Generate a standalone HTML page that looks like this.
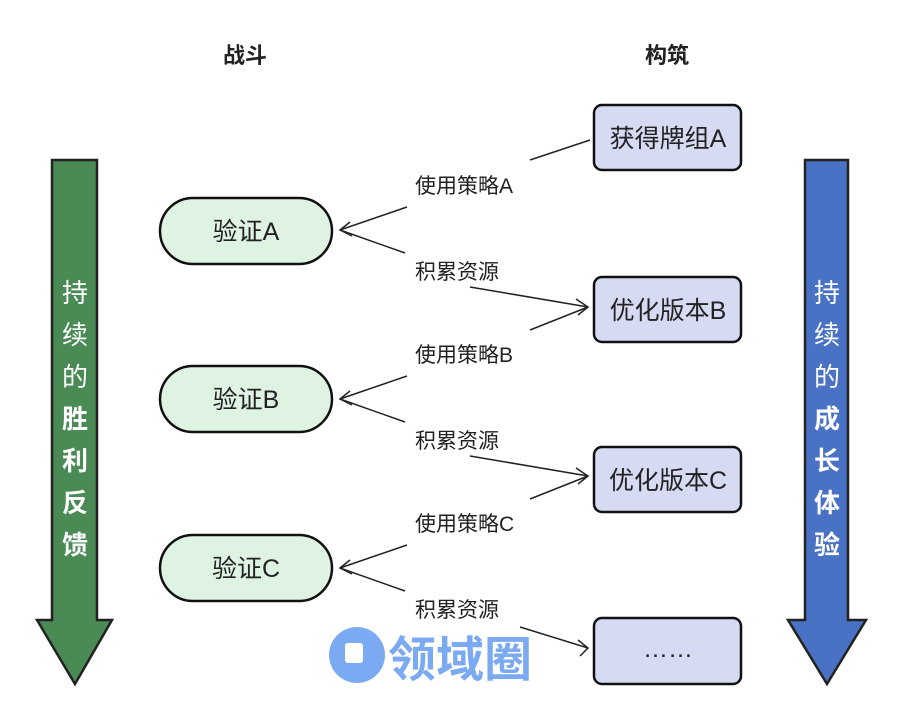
<!DOCTYPE html>
<html><head><meta charset="utf-8"><style>
body{margin:0;background:#fff;}
svg text{font-family:"Liberation Sans","Noto Sans CJK SC",sans-serif;}
</style></head><body>
<svg width="900" height="718" viewBox="0 0 900 718" xmlns="http://www.w3.org/2000/svg">
<rect width="900" height="718" fill="#fff"/>
<text x="245" y="63" font-size="22" font-weight="bold" text-anchor="middle" fill="#222">战斗</text>
<text x="667" y="63" font-size="22" font-weight="bold" text-anchor="middle" fill="#222">构筑</text>
<polygon points="52,160 97,160 97,620 112,620 75,684 37,620 52,620" fill="#4a8a55" stroke="#222" stroke-width="2.5"/>
<polygon points="805,160 848,160 848,620 866,620 827,684 788,620 805,620" fill="#4a72c4" stroke="#222" stroke-width="2.5"/>
<g font-size="26" fill="#fff" text-anchor="middle" font-weight="bold">
<text x="75" y="302" font-weight="normal">持</text><text x="75" y="344" font-weight="normal">续</text><text x="75" y="386" font-weight="normal">的</text>
<text x="75" y="428">胜</text><text x="75" y="470">利</text><text x="75" y="512">反</text><text x="75" y="554">馈</text>
<text x="827" y="302" font-weight="normal">持</text><text x="827" y="344" font-weight="normal">续</text><text x="827" y="386" font-weight="normal">的</text>
<text x="827" y="428">成</text><text x="827" y="470">长</text><text x="827" y="512">体</text><text x="827" y="554">验</text>
</g>
<g stroke="#111" stroke-width="2.5">
<rect x="160" y="198" width="172" height="66" rx="33" fill="#dff3e3"/>
<rect x="160" y="366" width="172" height="66" rx="33" fill="#dff3e3"/>
<rect x="160" y="535" width="172" height="66" rx="33" fill="#dff3e3"/>
<rect x="594" y="105" width="147" height="65" rx="8" fill="#d6daf2"/>
<rect x="594" y="277" width="147" height="65" rx="8" fill="#d6daf2"/>
<rect x="594" y="447" width="147" height="65" rx="8" fill="#d6daf2"/>
<rect x="594" y="618" width="147" height="66" rx="8" fill="#d6daf2"/>
</g>
<g font-size="25" fill="#222" text-anchor="middle">
<text x="246" y="240">验证A</text><text x="246" y="408">验证B</text><text x="246" y="577">验证C</text>
<text x="668" y="147">获得牌组A</text><text x="668" y="319">优化版本B</text><text x="668" y="489">优化版本C</text><text x="668" y="657">……</text>
</g>
<g stroke="#222" stroke-width="1.5" fill="none">
<line x1="530" y1="160" x2="590" y2="140"/>
<g id="r">
<line x1="407" y1="207" x2="340" y2="230"/><line x1="405" y1="253" x2="340" y2="230"/>
<polyline points="350,222 340,230 352,236"/>
<line x1="470" y1="287" x2="588" y2="307"/><line x1="530" y1="330" x2="588" y2="307"/>
<polyline points="576,299 588,307 578,315"/>
</g>
<use href="#r" y="169"/>
<line x1="407" y1="545" x2="340" y2="568"/><line x1="405" y1="591" x2="340" y2="568"/>
<polyline points="350,560 340,568 352,574"/>
<line x1="520" y1="627" x2="588" y2="648"/>
<polyline points="578,640 588,648 580,656"/>
</g>
<g font-size="21" fill="#222">
<text x="415" y="193">使用策略A</text><text x="415" y="279">积累资源</text>
<text x="415" y="362">使用策略B</text><text x="415" y="448">积累资源</text>
<text x="415" y="531">使用策略C</text><text x="415" y="617">积累资源</text>
</g>
<g opacity="0.8">
<circle cx="357" cy="655" r="28" fill="#5b95f0"/>
<rect x="345" y="643" width="18" height="20" rx="3" fill="#fff"/>
<text x="388" y="676" font-size="48" font-weight="bold" fill="#5b95f0">领域圈</text>
</g>
</svg>
</body></html>
